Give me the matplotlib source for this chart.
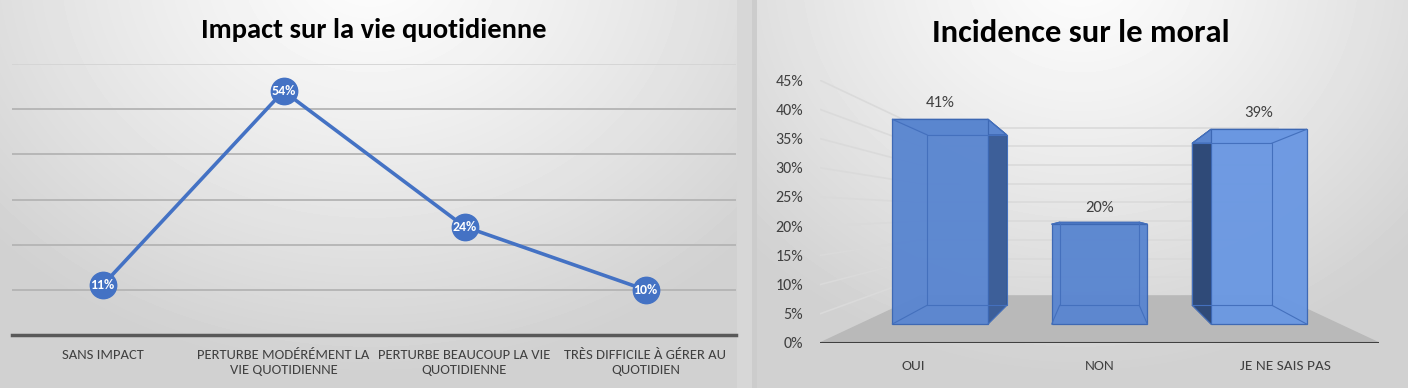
import numpy as np
import matplotlib.pyplot as plt
from matplotlib import font_manager
from matplotlib.patches import Polygon

# data
impact_labels = ["SANS IMPACT", "PERTURBE MODÉRÉMENT LA\nVIE QUOTIDIENNE",
                 "PERTURBE BEAUCOUP LA VIE\nQUOTIDIENNE", "TRÈS DIFFICILE À GÉRER AU\nQUOTIDIEN"]
impact_values = [11, 54, 24, 10]

moral_labels = ["OUI", "NON", "JE NE SAIS PAS"]
moral_values = [41, 20, 39]

# Calibri-like font if there is one
names = {f.name for f in font_manager.fontManager.ttflist}
font, k = "DejaVu Sans", 0.85
for name, scale in [("Carlito", 1.0), ("IBM Plex Sans Condensed", 0.9),
                    ("Liberation Sans Narrow", 0.95)]:
    if name in names:
        font, k = name, scale
        break
fams = [font, "DejaVu Sans"]

blue = "#4472C4"
W, H = 1408, 388
fig = plt.figure(figsize=(W / 100, H / 100), dpi=100)

# background (soft radial shading of the two panels)
bg = fig.add_axes([0, 0, 1, 1], zorder=-10)
xx, yy = np.meshgrid(np.arange(W), np.arange(H))
img = np.zeros((H, W))
left = xx < 737
d = np.hypot((xx - 370) / 500, (yy + 30) / 400)
img[left] = 0.99 - 0.17 * np.clip(d[left], 0, 1) ** 1.2
right = xx >= 757
d = np.hypot((xx - 1080) / 450, (yy + 30) / 400)
img[right] = 0.99 - 0.17 * np.clip(d[right], 0, 1) ** 1.2
img[(xx >= 737) & (xx < 757)] = 0.84
img[(xx >= 752) & (xx < 757)] = 0.80
bg.imshow(img, cmap="gray", vmin=0, vmax=1, extent=[0, W, H, 0], aspect="auto")
bg.axis("off")

# ---- left: line chart ----
ax1 = fig.add_axes([12 / W, (H - 335) / H, 724 / W, 271 / H])
ax1.set_facecolor("none")
x = np.arange(len(impact_values))
ax1.set_xlim(-0.5, 3.5)
ax1.set_ylim(0, 60)
for g in range(10, 61, 10):
    ax1.axhline(g, color="#d4d4d4" if g == 60 else "#b4b4b4", lw=1.3, zorder=1)
ax1.axhline(0, color="#595959", lw=2.5, zorder=2, clip_on=False)
ax1.plot(x, impact_values, color=blue, lw=2.6, marker="o", markersize=19, zorder=3)
for xi, v in zip(x, impact_values):
    ax1.text(xi, v, f"{v}%", color="white", fontsize=10 * k, fontweight="bold",
             family=fams, ha="center", va="center", zorder=4)
ax1.set_xticks(x)
ax1.set_xticklabels(impact_labels, family=fams, fontsize=10.5 * k, color="#404040", linespacing=1.3)
ax1.tick_params(axis="x", length=0, pad=10)
ax1.set_yticks([])
for s in ax1.spines.values():
    s.set_visible(False)
fig.text(374 / W, 1 - 30 / H, "Impact sur la vie quotidienne", family=fams,
         fontweight="bold", fontsize=20.5 * k, ha="center", va="center")

# ---- right: 3D-look bar chart ----
ax2 = fig.add_axes([820 / W, (H - 343) / H, 559 / W, 262.8 / H])
ax2.set_facecolor("none")
ax2.set_xlim(-0.5, 2.5)
ax2.set_ylim(0, 45)
vx, vy = 1.0, 22.4          # vanishing point
s_bar_f, s_bar_b, s_wall = 0.855, 0.712, 0.64
half = 0.3


def proj(px, pv, s):
    return vx + s * (px - vx), vy + s * (pv - vy)


# floor
floor = [proj(-0.5, 0, 1), proj(2.5, 0, 1), proj(2.5, 0, s_wall), proj(-0.5, 0, s_wall)]
ax2.add_patch(Polygon(floor, closed=True, color="#b9b9b9", zorder=1))
# wall grid lines
for t in range(5, 50, 5):
    a = proj(-0.5, t, 1)
    b = proj(-0.5, t, s_wall)
    c = proj(2.5, t, s_wall)
    ax2.plot([a[0], b[0]], [a[1], b[1]], color="#dadada", lw=1.2, zorder=1)
    ax2.plot([b[0], c[0]], [b[1], c[1]], color="#dadada", lw=1.2, zorder=1)
ax2.axhline(0, color="#404040", lw=2.2, zorder=2)

for i, v in enumerate(moral_values):
    fl, fr = i - half, i + half
    F = [proj(fl, 0, s_bar_f), proj(fr, 0, s_bar_f), proj(fr, v, s_bar_f), proj(fl, v, s_bar_f)]
    B = [proj(fl, 0, s_bar_b), proj(fr, 0, s_bar_b), proj(fr, v, s_bar_b), proj(fl, v, s_bar_b)]
    if i < vx:   # right side visible
        side = [F[1], B[1], B[2], F[2]]
        ax2.add_patch(Polygon(side, closed=True, fc="#3d5f99", ec="#35588f", lw=0.8, zorder=3))
    elif i > vx:  # left side visible
        side = [F[0], B[0], B[3], F[3]]
        ax2.add_patch(Polygon(side, closed=True, fc="#2f4a78", ec="#2c4673", lw=0.8, zorder=3))
    top = [F[3], F[2], B[2], B[3]]
    ax2.add_patch(Polygon(top, closed=True, fc="#5b86cf", ec="#3c67b3", lw=0.8, zorder=3))
    fc = "#6b98e2" if i == 2 else "#5a86d0"
    ax2.add_patch(Polygon(F, closed=True, fc=fc, ec="#3c67b3", lw=0.9, alpha=0.97, zorder=4))
    # hidden edges seen through the face
    bx = [B[0][0], B[1][0], B[2][0], B[3][0], B[0][0]]
    by = [B[0][1], B[1][1], B[2][1], B[3][1], B[0][1]]
    ax2.plot(bx, by, color="#4470bd", lw=0.8, zorder=5)
    for j in range(4):
        ax2.plot([F[j][0], B[j][0]], [F[j][1], B[j][1]], color="#4470bd", lw=0.8, zorder=5)
    tx, ty = proj(i, v, s_bar_f)
    ax2.annotate(f"{v}%", (tx, ty), xytext=(0, 12), textcoords="offset points",
                 ha="center", va="center", fontsize=12 * k, color="#404040", family=fams,
                 annotation_clip=False)

ax2.set_xticks(range(3))
ax2.set_xticklabels(moral_labels, family=fams, fontsize=11 * k, color="#404040")
ax2.set_yticks(range(0, 50, 5))
ax2.set_yticklabels([f"{t}%" for t in range(0, 50, 5)], family=fams, fontsize=11.5 * k, color="#404040")
ax2.tick_params(axis="x", length=0, pad=12)
ax2.tick_params(axis="y", length=0, pad=12)
for s in ax2.spines.values():
    s.set_visible(False)
fig.text(1081 / W, 1 - 33 / H, "Incidence sur le moral", family=fams,
         fontweight="bold", fontsize=23.5 * k, ha="center", va="center")

fig.savefig("out.png", dpi=100)
